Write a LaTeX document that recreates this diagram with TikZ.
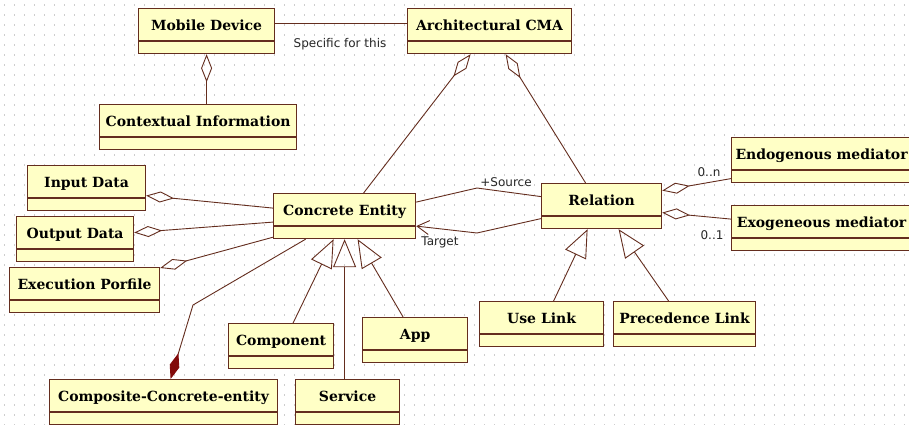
\documentclass[tikz,border=0pt]{standalone}
\usepackage{fontspec}
\newfontfamily\clsfont{DejaVu Serif}
\newfontfamily\lblfont{DejaVu Sans}
\usetikzlibrary{arrows.meta}
\definecolor{clsfill}{RGB}{255,255,198}
\definecolor{clsline}{RGB}{100,45,30}
\definecolor{compred}{RGB}{130,10,10}
\definecolor{dotcol}{RGB}{205,205,205}

\tikzset{
  cls/.style={draw=clsline, fill=clsfill, line width=1.2pt, anchor=north west,
    inner sep=0pt, minimum height=45pt, text height=21.5pt, text depth=23.5pt,
    font=\clsfont\bfseries\fontsize{14}{16}\selectfont},
  lbl/.style={font=\lblfont\fontsize{12}{14}\selectfont, inner sep=0pt, text=black!85},
  assoc/.style={draw=clsline, line width=.9pt},
  aggr/.style={assoc, {Diamond[open, length=28pt, width=11pt]}-},
  compos/.style={assoc, {Diamond[length=27pt, width=10pt, color=compred, fill=compred]}-},
  gen/.style={assoc, -{Triangle[open, length=28pt, width=23pt]}},
  nav/.style={assoc, -{Straight Barb[length=12pt, width=14pt]}},
}

\begin{document}
\begin{tikzpicture}[x=1pt, y=-1pt]

        \useasboundingbox (0,0) rectangle (909,425);
        \clip (0,0) rectangle (909,425);
        \fill[white] (0,0) rectangle (909,425);
        \foreach \y in {5,15,...,425}
          \draw[dotcol, line width=1.2pt, dash pattern=on 1.2pt off 8.8pt] (4,\y) -- (909,\y);

        \begin{scope}[every node/.style={cls}]
          \node[minimum width=136pt] (md)   at (138,8)   {Mobile Device};
          \node[minimum width=164pt] (cma)  at (407,8)   {Architectural CMA};
          \node[minimum width=197pt] (ctx)  at (99,104)  {Contextual Information};
          \node[minimum width=118pt] (inp)  at (27,165)  {Input Data};
          \node[minimum width=117pt] (outp) at (16,216)  {Output Data};
          \node[minimum width=150pt] (exe)  at (9,267)   {Execution Porfile};
          \node[minimum width=142pt] (ce)   at (273,193) {Concrete Entity};
          \node[minimum width=120pt] (rel)  at (541,183) {Relation};
          \node[minimum width=180pt] (endo) at (731,137) {Endogenous mediator};
          \node[minimum width=180pt] (exo)  at (731,205) {Exogeneous mediator};
          \node[minimum width=105pt] (cpt)  at (228,323) {Component};
          \node[minimum width=105pt] (app)  at (362,317) {App};
          \node[minimum width=104pt] (serv) at (295,379) {Service};
          \node[minimum width=228pt] (cce)  at (49,379)  {Composite-Concrete-entity};
          \node[minimum width=124pt] (use)  at (479,301) {Use Link};
          \node[minimum width=142pt] (prec) at (613,301) {Precedence Link};
        \end{scope}

        \foreach \n in {md,cma,ctx,inp,outp,exe,ce,rel,endo,exo,cpt,app,serv,cce,use,prec}
          \draw[clsline, line width=1.2pt] ([yshift=-33pt]\n.north west) -- ([yshift=-33pt]\n.north east);

        \draw[assoc] ([yshift=8pt]md.east) -- ([yshift=8pt]cma.west);
        \draw[aggr] (md.south) -- (md.south |- ctx.north);
        \draw[aggr] ([xshift=-19pt]cma.south) -- ([xshift=19pt]ce.north);
        \draw[aggr] ([xshift=16pt]cma.south) -- ([xshift=-16pt]rel.north);
        \draw[aggr] ([yshift=-7.5pt]inp.east) -- ([yshift=8pt]ce.west);
        \draw[aggr] ([yshift=6.5pt]outp.east) -- ([yshift=-6pt]ce.west);
        \draw[aggr] ([yshift=-1pt]exe.north east) -- ([yshift=2pt]ce.south west);
        \draw[compos] ([xshift=7pt]cce.north) -- (193,305) -- ([xshift=-39pt]ce.south);
        \draw[gen] ([xshift=12pt]cpt.north) -- ([xshift=-11pt]ce.south);
        \draw[gen] (serv.north -| ce.south) -- (ce.south);
        \draw[gen] ([xshift=-12pt]app.north) -- ([xshift=13pt]ce.south);
        \draw[assoc] ([yshift=14pt]ce.east) -- (477,188) -- ([yshift=9.5pt]rel.west);
        \draw[nav] ([yshift=-12.5pt]rel.west) -- (477,233) -- ([yshift=-10pt]ce.east);
        \draw[aggr] ([yshift=15.5pt]rel.east) -- ([yshift=-18.5pt]endo.west);
        \draw[aggr] ([yshift=-6.5pt]rel.east) -- ([yshift=9pt]exo.west);
        \draw[gen] ([xshift=12pt]use.north) -- ([xshift=-14pt]rel.south);
        \draw[gen] ([xshift=-16pt]prec.north) -- ([xshift=17pt]rel.south);

        \begin{scope}[every node/.style={lbl}]
          \node (spec) at (340,44)  {Specific for this};
          \node (src)  at (506,182) {+Source};
          \node (tgt)  at (440,242) {Target};
          \node (endon) at (709,172) {0..n};
          \node (exon)  at (712,235) {0..1};
        \end{scope}

      \end{tikzpicture}
\end{document}
